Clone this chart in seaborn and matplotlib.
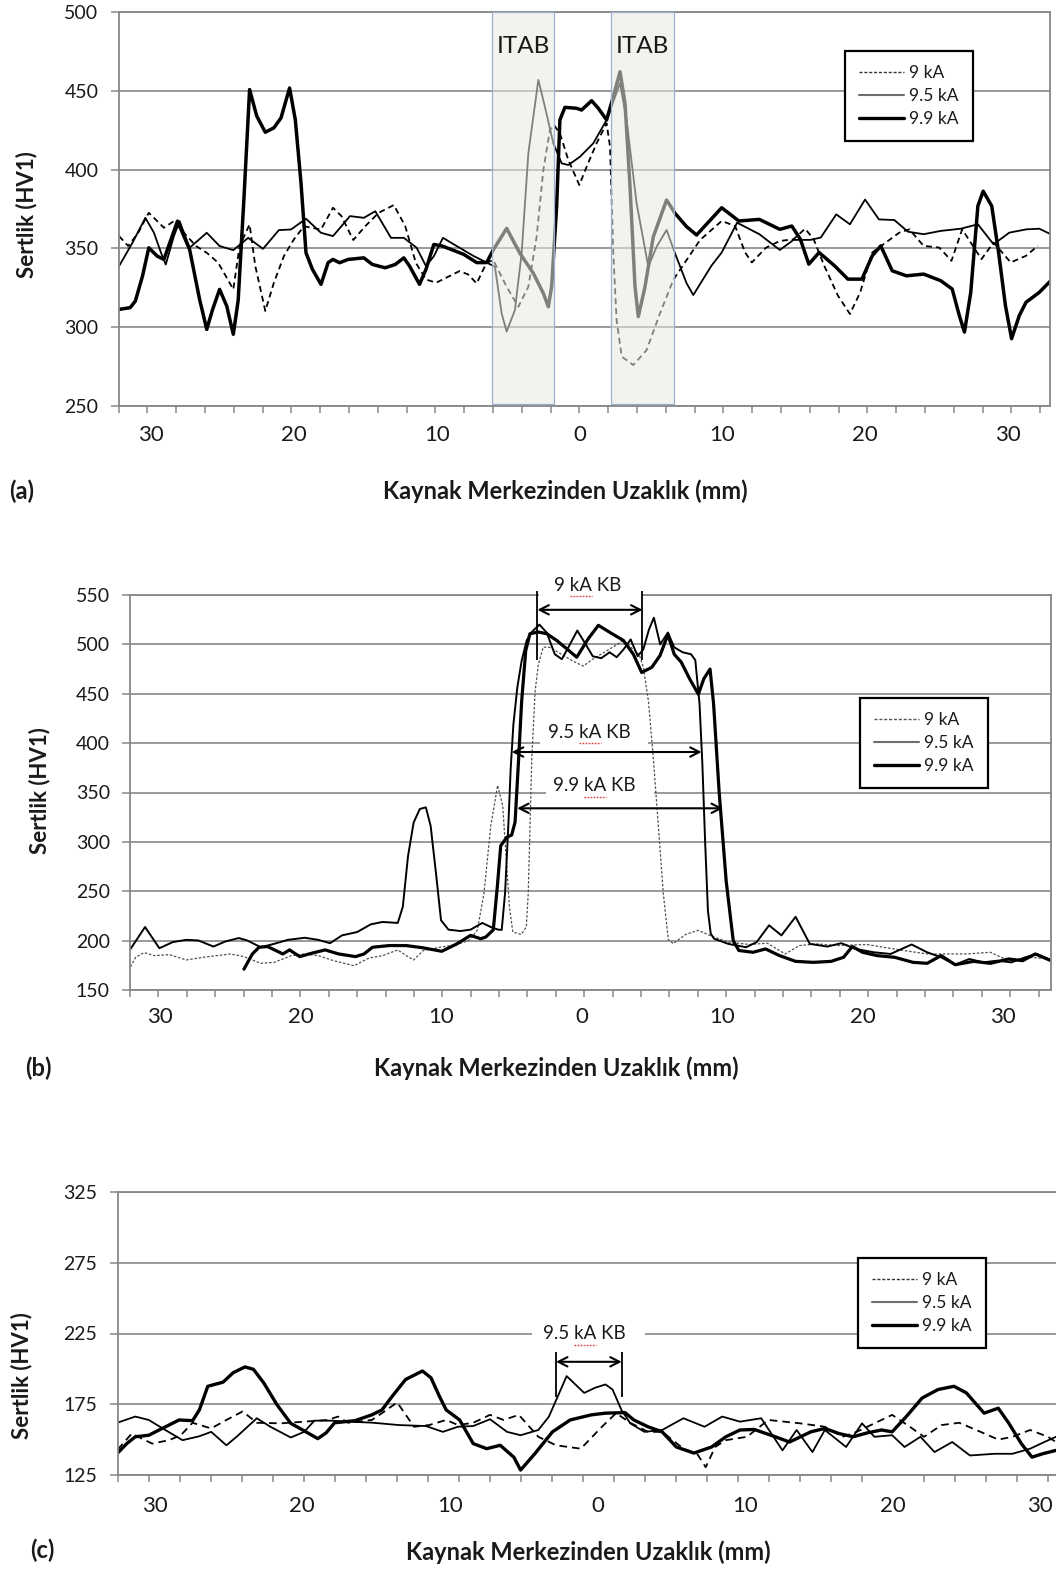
import numpy as np
import pandas as pd
import matplotlib
matplotlib.use("Agg")
import matplotlib.pyplot as plt
import seaborn as sns
from matplotlib.patches import Rectangle
from matplotlib.lines import Line2D
from matplotlib.font_manager import FontProperties
from matplotlib.transforms import IdentityTransform

# ---------------------------------------------------------------- data
series_labels = ["9 kA", "9.5 kA", "9.9 kA"]
x_tick_values = [-30, -20, -10, 0, 10, 20, 30]
x_tick_labels = ["30", "20", "10", "0", "10", "20", "30"]
a_yticks = [250, 300, 350, 400, 450, 500]
b_yticks = [150, 200, 250, 300, 350, 400, 450, 500, 550]
c_yticks = [125, 175, 225, 275, 325]
x_title = "Kaynak Merkezinden Uzaklık (mm)"
y_title = "Sertlik (HV1)"
panel_tags = ["(a)", "(b)", "(c)"]

# panel (a)  (distance mm, HV1)
a_9ka = [(-32.24, 357.8), (-31.6, 351.5), (-30.9, 359.9), (-30.16, 372.6), (-29.1, 363.1),
         (-28.4, 367.3), (-27.7, 359.9), (-26.85, 351.5), (-26.1, 347.2), (-25.3, 340.9),
         (-24.24, 324), (-23.8, 351.5), (-23.1, 365.2), (-22.7, 338.8), (-22.0, 310.3),
         (-21.4, 328.2), (-20.7, 345.1), (-20.0, 355.7), (-19.3, 364), (-18.1, 362),
         (-17.26, 375.8), (-16.67, 370.5), (-15.84, 355.3), (-15.0, 364.1), (-14.06, 372.6),
         (-13.0, 377.5), (-12.2, 364.1), (-11.46, 340.9), (-10.75, 330.3), (-10.04, 328.2),
         (-9.33, 331.4), (-8.4, 335.6), (-7.8, 333.5), (-7.2, 327.8), (-6.5, 341),
         (-6.04, 342.6), (-5.1, 325.7), (-4.28, 313), (-3.58, 325.7), (-3.0, 357.4),
         (-2.53, 399.7), (-2.07, 425.1), (-1.79, 428.3), (-1.37, 423), (-0.78, 406.1),
         (-0.01, 390.2), (0.5, 401.8), (1.2, 416.7), (1.9, 429.4), (2.14, 414.5),
         (2.37, 346.9), (2.6, 304.6), (2.96, 281.3), (3.77, 276), (4.7, 285.5),
         (5.64, 308.8), (6.57, 330), (7.5, 342.6), (8.44, 355.3), (9.96, 367.4),
         (10.9, 364.2), (11.6, 347.4), (12.07, 341.1), (13.07, 350.5), (14.03, 354.7),
         (14.99, 355.8), (15.8, 362.5), (16.4, 355.8), (17.14, 339), (18.1, 320),
         (18.94, 308.4), (19.66, 322.1), (20.5, 347.4), (21.45, 353.7), (22.4, 360),
         (23.1, 362.1), (24.1, 351.6), (25.2, 350.5), (26.05, 342.1), (26.8, 362.1),
         (28.15, 343.2), (29.0, 353.7), (30.2, 341.1), (31.27, 345.3), (32.1, 351.6)]
a_95ka = [(-32.24, 338.8), (-31.3, 353.6), (-30.4, 369.4), (-29.8, 360), (-29.3, 347.2),
          (-28.97, 339.8), (-28.4, 357.8), (-28.0, 367.3), (-27.3, 350.4), (-26.1, 359.9),
          (-25.2, 351.5), (-24.24, 348.9), (-23.2, 356.7), (-22.16, 349.7), (-21.05, 361.6),
          (-20.2, 362), (-19.15, 368.8), (-18.1, 359.9), (-17.26, 357.8), (-16.07, 370.5),
          (-15.1, 369.4), (-14.3, 373.6), (-13.2, 356.7), (-12.3, 356.7), (-11.4, 350.4),
          (-10.75, 338.8), (-10.2, 345), (-9.56, 356.7), (-8.6, 351.5), (-7.4, 345.1),
          (-6.5, 341), (-5.92, 338.4), (-5.45, 308.8), (-5.1, 297.2), (-4.52, 310.9),
          (-4.05, 346.9), (-3.58, 410.3), (-2.88, 456.9), (-2.42, 439.9), (-1.83, 416.7),
          (-1.25, 404), (-0.78, 402.9), (0.04, 408.2), (0.97, 416.7), (1.9, 431.5),
          (2.84, 454.8), (3.3, 431.5), (4.0, 378.6), (4.82, 338.4), (5.4, 351),
          (6.1, 361.7), (6.69, 346.9), (7.5, 327.9), (7.97, 320.4), (9.24, 339),
          (9.96, 347.4), (11.04, 366.3), (12.6, 359), (14.03, 349), (14.99, 355.4),
          (16.18, 355.4), (16.9, 356.9), (17.98, 371.6), (18.94, 365.3), (20.0, 381),
          (20.97, 368.4), (22.05, 368), (23.0, 360.6), (24.1, 359), (25.3, 361.1),
          (26.7, 362.5), (27.9, 365.3), (29.0, 352.6), (30.1, 360), (31.3, 362.1),
          (32.2, 362.5), (33.0, 359)]
a_99ka = [(-32.24, 311.3), (-31.46, 312.4), (-31.1, 316.6), (-30.6, 332.4), (-30.16, 350.4),
          (-29.57, 345.1), (-29.1, 343), (-28.15, 367.3), (-27.3, 349.3), (-26.6, 317.6),
          (-26.1, 298.6), (-25.7, 311), (-25.2, 324), (-24.7, 313.4), (-24.24, 295.5),
          (-23.9, 317), (-23.5, 381), (-23.1, 450.8), (-22.6, 434), (-22.0, 423.7),
          (-21.4, 426.5), (-20.9, 432.8), (-20.3, 451.8), (-19.9, 431.7), (-19.5, 391.6),
          (-19.15, 347.2), (-18.7, 336.7), (-18.1, 327.2), (-17.6, 341), (-17.26, 343),
          (-16.8, 340.9), (-16.2, 343), (-15.1, 344), (-14.5, 339.8), (-13.6, 337.7),
          (-12.9, 339.8), (-12.3, 344), (-11.9, 338.8), (-11.2, 327.2), (-10.75, 336.7),
          (-10.2, 352.5), (-9.6, 351.5), (-8.1, 346.2), (-7.2, 341), (-6.5, 341),
          (-6.04, 349), (-5.1, 362.7), (-4.17, 346.9), (-3.23, 334.2), (-2.53, 321.5),
          (-2.18, 313), (-1.95, 325.7), (-1.6, 376.5), (-1.37, 431.5), (-1.02, 439.5),
          (-0.2, 438.9), (0.15, 437.8), (0.85, 443.7), (1.32, 438.9), (1.9, 431.5),
          (2.37, 446.3), (2.84, 462.1), (3.19, 442), (3.54, 389.2), (3.89, 325.7),
          (4.12, 306.7), (4.59, 325.7), (5.17, 357.4), (6.1, 380.7), (6.69, 372.3),
          (7.5, 363.8), (8.2, 358.5), (9.96, 375.8), (11.16, 367.4), (12.6, 368.4),
          (14.03, 362.1), (14.87, 364.2), (15.47, 355.8), (16.06, 340), (16.78, 347.4),
          (17.86, 339), (18.8, 330.5), (19.78, 330.5), (20.5, 345.3), (21.1, 351.6),
          (21.9, 335.8), (22.9, 332.6), (24.1, 333.7), (25.3, 329.5), (26.1, 324.2),
          (26.6, 307.4), (26.96, 296.9), (27.4, 322.1), (27.9, 376.9), (28.27, 386.3),
          (28.87, 376.9), (29.35, 347.4), (29.83, 313.7), (30.26, 292.7), (30.8, 307.4),
          (31.27, 315.8), (32.2, 322.1), (33.0, 329.5)]

# panel (b)
b_9ka = [(-32.1, 173.5), (-31.74, 183.1), (-31.14, 187.9), (-30.41, 184.8), (-29.33, 185.8),
         (-28.13, 180.4), (-26.92, 183.1), (-25.0, 186.5), (-24.03, 183.8), (-22.83, 177),
         (-21.87, 178), (-20.66, 184.8), (-19.7, 186.5), (-18.74, 184.8), (-17.65, 179.7),
         (-16.2, 174.6), (-15.12, 182.4), (-14.16, 184.8), (-13.08, 190.6), (-12.48, 184.8),
         (-11.95, 180.4), (-11.27, 189.9), (-10.07, 193.3), (-8.86, 196.1), (-8.02, 200.2),
         (-7.42, 210.4), (-6.94, 248), (-6.46, 316.2), (-5.97, 357.2), (-5.61, 336.7),
         (-5.37, 285.5), (-5.13, 234.3), (-4.89, 208.7), (-4.29, 206.3), (-3.93, 213.8),
         (-3.79, 248.4), (-3.54, 384.7), (-3.3, 452.9), (-3.07, 480.1), (-2.72, 497.2),
         (-2.25, 497), (-1.55, 491), (-0.6, 483), (0.13, 478), (0.8, 485), (1.5, 491),
         (2.2, 497), (2.98, 504), (3.6, 496), (4.1, 490), (4.4, 477), (4.76, 443),
         (5.11, 385), (5.47, 316), (5.82, 248), (6.18, 201), (6.53, 197), (7.42, 206.3),
         (8.3, 210.4), (9.31, 204.3), (10.45, 198.5), (11.96, 196.1), (13.22, 197.4),
         (14.5, 186.5), (15.5, 195), (16.76, 196.7), (18.27, 195), (20.3, 196.1),
         (21.8, 192.6), (23.3, 189.2), (24.6, 186.5), (26.1, 186.5), (27.4, 186.5),
         (29.1, 188.2), (30.4, 179.7), (31.9, 183.1), (33.42, 181.4)]
b_95ka = [(-32.1, 191.6), (-31.07, 213.8), (-30.05, 192.3), (-29.1, 198.5), (-28.13, 200.8),
          (-27.28, 200.2), (-26.2, 194), (-25.36, 199.1), (-24.4, 202.6), (-23.8, 200.2),
          (-22.83, 193.3), (-21.87, 196.8), (-20.9, 200.8), (-19.7, 202.9), (-18.74, 200.8),
          (-17.9, 197.4), (-17.05, 205.3), (-15.97, 208.7), (-15.0, 216.5), (-14.16, 218.9),
          (-13.08, 217.9), (-12.72, 234.3), (-12.35, 285.5), (-11.95, 319.6), (-11.51, 333.3),
          (-11.08, 335), (-10.74, 316.2), (-10.36, 268.4), (-10.0, 220.6), (-9.47, 211.1),
          (-8.62, 209.7), (-7.9, 211.1), (-7.06, 217.9), (-6.46, 213.8), (-5.93, 211.1),
          (-5.68, 210.9), (-5.44, 248.4), (-5.21, 316.5), (-5.04, 374.5), (-4.85, 418.8),
          (-4.57, 456.3), (-4.26, 483.5), (-3.9, 504), (-3.54, 512.5), (-3.0, 520),
          (-2.48, 512), (-1.9, 490), (-1.4, 485), (-0.9, 498), (-0.3, 514), (0.3, 500),
          (0.8, 488), (1.4, 486), (2.0, 492), (2.5, 487), (3.0, 495), (3.5, 505), (4.0, 488),
          (4.4, 495), (4.8, 515), (5.15, 527), (5.6, 500), (6.15, 512), (6.6, 497),
          (7.2, 492), (7.8, 490), (8.1, 484), (8.4, 440), (8.6, 380), (8.8, 300), (9.0, 230),
          (9.2, 207), (9.44, 201.9), (10.45, 196.7), (11.71, 193.3), (12.47, 198.5),
          (13.35, 215.5), (14.23, 205.3), (15.24, 224.1), (16.25, 196.7), (17.5, 194),
          (18.5, 197.4), (19.5, 191.6), (20.8, 188.2), (22.0, 186.5), (23.5, 196.1),
          (24.6, 188.2), (25.6, 183.1), (26.6, 175.6), (27.6, 181.4), (28.6, 178),
          (29.6, 179.7), (30.6, 178), (31.6, 183.1), (32.4, 186.5), (33.42, 180.3)]
b_99ka = [(-24.03, 171.1), (-23.43, 186.5), (-22.95, 193.3), (-22.35, 194), (-21.75, 189.9),
          (-21.26, 186.5), (-20.78, 190.6), (-20.06, 183.8), (-19.22, 187.2), (-18.25, 190.6),
          (-17.29, 186.5), (-16.09, 183.8), (-15.48, 186.5), (-14.88, 193.3), (-13.68, 195),
          (-12.48, 195), (-11.27, 192.7), (-9.95, 189.2), (-8.86, 196.8), (-7.9, 205.3),
          (-7.18, 201.9), (-6.82, 203.6), (-6.28, 210.9), (-5.99, 255.2), (-5.75, 296.1),
          (-5.32, 304.6), (-4.97, 307), (-4.73, 320), (-4.5, 377.9), (-4.26, 442.6),
          (-3.97, 493.8), (-3.67, 510.8), (-3.07, 512.5), (-2.48, 510.8), (-1.77, 504),
          (-1.05, 495.5), (-0.34, 487), (0.48, 505.7), (1.2, 519.3), (2.15, 511), (2.98, 504),
          (3.69, 490), (4.28, 471.6), (5.0, 476.7), (5.59, 488.7), (6.15, 510), (6.6, 490),
          (7.1, 482), (7.7, 465), (8.32, 449.5), (8.7, 465), (9.15, 475), (9.4, 440),
          (9.8, 350), (10.3, 260), (10.8, 200), (11.2, 190), (12.21, 188.2), (13.1, 191.6),
          (14.1, 184.8), (15.24, 179), (16.5, 178), (17.77, 179), (18.65, 183.1),
          (19.28, 194), (20.0, 188.2), (21.05, 184.8), (22.3, 183.1), (23.6, 178),
          (24.6, 177), (25.6, 184.8), (26.6, 175.6), (27.9, 179), (29.1, 177), (30.4, 181.4),
          (31.4, 179.7), (32.3, 186.5), (33.42, 179.7)]

# panel (c)
c_9ka = [(-32.5, 142.9), (-31.54, 154.3), (-30.85, 150.7), (-30.16, 147.2), (-29.02, 149.6),
         (-28.22, 153.1), (-27.42, 161.9), (-26.16, 157.9), (-25.13, 163.9), (-24.03, 169.9),
         (-23.07, 161.9), (-21.47, 161.5), (-19.86, 162.7), (-18.26, 163.9), (-17.57, 166.3),
         (-16.88, 161.9), (-15.28, 163.9), (-14.59, 168.7), (-13.56, 176.3), (-12.42, 159.1),
         (-11.39, 160.3), (-10.24, 163.9), (-9.44, 160.3), (-8.41, 161.9), (-7.27, 167.5),
         (-6.35, 163.9), (-5.32, 167.5), (-4.0, 152), (-2.8, 146), (-1.12, 143.6),
         (0.31, 159.1), (1.27, 168.7), (2.23, 161.9), (3.43, 155.5), (4.39, 155.5),
         (5.83, 143.6), (6.79, 139.5), (7.34, 130.5), (7.98, 144.8), (8.7, 149.6),
         (10.14, 152), (11.58, 163.9), (13.74, 161.5), (15.41, 159.1), (16.61, 152),
         (17.57, 155.5), (18.77, 161.5), (19.97, 167.5), (21.17, 159.1), (22.13, 152),
         (23.32, 160.3), (24.52, 161.9), (25.96, 155.5), (27.16, 150), (28.12, 152),
         (29.32, 156.8), (30.52, 152), (31.07, 148.3)]
c_95ka = [(-32.5, 162), (-31.3, 166.3), (-30.39, 163.9), (-29.25, 156.7), (-28.1, 149.6),
          (-26.96, 152.4), (-26.16, 155.5), (-25.13, 146), (-24.44, 152), (-23.07, 165.1),
          (-22.15, 159.1), (-20.77, 151.5), (-19.86, 155.5), (-19.17, 163.4), (-18.03, 163.4),
          (-16.88, 162.7), (-15.28, 162), (-13.45, 160.3), (-11.61, 159.6), (-10.47, 155.5),
          (-9.44, 159.1), (-8.41, 159.6), (-7.27, 164.4), (-6.12, 155.5), (-5.2, 153.1),
          (-4.0, 156.8), (-3.28, 166.3), (-2.68, 180.6), (-2.08, 194.9), (-1.6, 190.1),
          (-0.89, 183), (-0.17, 186.6), (0.55, 189), (1.03, 185.4), (1.63, 171),
          (2.23, 161.5), (3.19, 155.5), (4.39, 156.8), (5.83, 165.1), (7.26, 159.1),
          (8.46, 166.3), (9.66, 162.7), (11.1, 165.1), (12.54, 142.4), (13.5, 156.8),
          (14.57, 141.2), (15.41, 156.8), (16.85, 144.8), (17.93, 161.5), (18.77, 152),
          (19.97, 153.1), (20.81, 144.8), (21.89, 152), (22.84, 141.2), (24.04, 148.3),
          (25.24, 138.8), (26.92, 140), (28.12, 140), (29.32, 143.6), (30.28, 148.3),
          (31.07, 152)]
c_99ka = [(-32.5, 140.5), (-31.88, 147.2), (-31.3, 152), (-30.39, 153.1), (-29.48, 157.9),
          (-28.33, 163.9), (-27.42, 163.4), (-26.96, 171), (-26.39, 187.7), (-25.36, 190.6),
          (-24.67, 197.3), (-23.87, 201.4), (-23.3, 199.7), (-22.6, 190.1), (-21.7, 174.6),
          (-20.77, 161.5), (-19.86, 156.2), (-18.94, 150.7), (-18.37, 154.8), (-17.8, 161.9),
          (-16.42, 163.4), (-15.28, 167.5), (-14.59, 171), (-13.9, 180.6), (-12.99, 192.5),
          (-11.85, 198.5), (-11.27, 193.7), (-10.7, 180.6), (-10.24, 171), (-9.33, 163.9),
          (-8.41, 147.2), (-7.5, 143.6), (-6.58, 146), (-5.66, 137.6), (-5.2, 128.5),
          (-4.24, 140), (-3.04, 155.5), (-1.84, 163.9), (-0.41, 167.5), (0.55, 168.7),
          (1.87, 169.1), (2.47, 163.9), (3.43, 159.1), (4.39, 155.5), (5.35, 144.8),
          (6.54, 140.5), (7.74, 144.8), (8.7, 152), (9.66, 156.8), (10.62, 157.2),
          (12.06, 152), (13.02, 148.3), (14.46, 155.5), (15.41, 157.9), (16.37, 154.3),
          (17.33, 152), (18.29, 154.8), (19.25, 156.8), (19.97, 155.5), (20.93, 166.3),
          (22.0, 179.4), (23.08, 185.4), (24.16, 187.7), (25.0, 183), (26.2, 168.7),
          (27.16, 172.2), (27.88, 161.5), (28.72, 147.2), (29.44, 137.6), (30.16, 140),
          (31.07, 142.4)]

# annotations
itab_label = "ITAB"
itab_spans = [(-6.14, -1.75), (2.2, 6.62)]
itab_y = (251, 500)
itab_text_y = 478
b_kb_labels = ["9 kA KB", "9.5 kA KB", "9.9 kA KB"]
b_kb_spans = [(-3.14, 4.34), (-4.96, 8.55), (-4.58, 10.07)]
b_kb_arrow_y = [535, 391, 334]
b_kb_text_xy = [(0.46, 560), (0.55, 411), (0.9, 357)]
b_kb_mask = [(-3.05, 4.25, 546, 573), (-2.94, 4.76, 399, 423), (-2.56, 5.14, 345, 369)]
b_kb9_bar_y = (484, 554)
c_kb_label = "9.5 kA KB"
c_kb_span = (-2.8, 1.65)
c_kb_arrow_y = 205
c_kb_bar_y = (180, 212)
c_kb_text_xy = (-0.9, 225)
c_kb_mask = (-4.4, 3.2, 219, 231)
spell_word = "kA"

# ---------------------------------------------------------------- style
sns.set_theme(style="white")
plt.rcParams['font.family'] = ['Lato', 'DejaVu Sans']
plt.rcParams['text.color'] = '#1a1a1a'

GRAY = '#878787'
W, H = 1056, 1569
KB_SIZE = 13.5
fig = plt.figure(figsize=(W / 100, H / 100), dpi=100)
fig.patch.set_facecolor('white')


def box(l, t, r, b):
    return [l / W, 1 - b / H, (r - l) / W, (b - t) / H]


ax_a = fig.add_axes(box(118.5, 12, 1050, 406))
ax_b = fig.add_axes(box(130, 595, 1051, 990))
ax_c = fig.add_axes(box(117.6, 1192, 1056, 1475))


def draw(ax, pts, color, lw, ls):
    df = pd.DataFrame(pts, columns=["mm", "hv"])
    sns.lineplot(data=df, x="mm", y="hv", ax=ax, color=color, linewidth=lw,
                 linestyle=ls, estimator=None, errorbar=None, sort=False,
                 legend=False, solid_joinstyle='round', dash_joinstyle='round',
                 zorder=2)


def style(ax, xlim, ylim, yticks, mstart, mstep, xpad, ylab_xy):
    ax.set_xlim(*xlim)
    ax.set_ylim(*ylim)
    ax.set_yticks(yticks)
    ax.set_yticklabels([str(v) for v in yticks])
    ax.set_xticks(x_tick_values)
    ax.set_xticklabels(x_tick_labels)
    ax.set_xticks(np.arange(mstart, xlim[1] + 1e-6, mstep), minor=True)
    ax.tick_params(axis='x', which='major', bottom=True, length=0, pad=xpad,
                   labelsize=16, labelcolor='#1a1a1a')
    ax.tick_params(axis='x', which='minor', bottom=True, length=5, width=1.1,
                   color=GRAY, direction='out')
    ax.tick_params(axis='y', which='major', left=True, length=5.5, width=1.1,
                   color=GRAY, direction='out', pad=9, labelsize=14,
                   labelcolor='#1a1a1a')
    ax.grid(axis='y', color=GRAY, linewidth=1.2)
    ax.grid(axis='x', visible=False)
    ax.set_axisbelow(True)
    for s in ax.spines.values():
        s.set_color(GRAY)
        s.set_linewidth(1.3)
    ax.set_xlabel('')
    ax.set_ylabel(y_title, fontsize=16, fontweight='bold', color='#1a1a1a')
    ax.yaxis.set_label_coords(*ylab_xy)
    ax.set_facecolor('white')


def legend(ax, anchor, dotted_color):
    handles = [Line2D([], [], color=dotted_color, lw=1.0, linestyle=(0, (2.2, 1.3))),
               Line2D([], [], color='#6e6e6e', lw=1.5),
               Line2D([], [], color='black', lw=2.4)]
    lg = ax.legend(handles, series_labels, loc='upper left', bbox_to_anchor=anchor,
                   borderaxespad=0, frameon=True, fancybox=False, edgecolor='black',
                   framealpha=1, fontsize=12.5, handlelength=2.6, handletextpad=0.3,
                   labelspacing=0.4, borderpad=0.8)
    lg.get_frame().set_linewidth(1.6)
    lg.set_zorder(6)


def double_arrow(ax, x0, x1, y):
    ax.annotate('', xy=(x1, y), xytext=(x0, y),
                arrowprops=dict(arrowstyle='<->,head_length=0.55,head_width=0.28',
                                lw=1.5, color='black', shrinkA=0, shrinkB=0),
                zorder=4, annotation_clip=False)


kb_texts = []

# ---------------------------------------------------------------- panel (a)
draw(ax_a, a_9ka, 'black', 1.3, (0, (3.3, 2.2)))
draw(ax_a, a_95ka, 'black', 1.3, '-')
draw(ax_a, a_99ka, 'black', 2.5, '-')
style(ax_a, (-32.28, 32.95), (250, 500), a_yticks, -32.28, 2.017, 14, (-0.0874, 0.487))
for x0, x1 in itab_spans:
    ax_a.add_patch(Rectangle((x0, itab_y[0]), x1 - x0, itab_y[1] - itab_y[0],
                             facecolor='#EBE9E2', alpha=0.55, edgecolor='none', zorder=3))
    ax_a.add_patch(Rectangle((x0, itab_y[0]), x1 - x0, itab_y[1] - itab_y[0],
                             fill=False, edgecolor='#9AB0CC', lw=0.9, zorder=3.1))
    ax_a.text((x0 + x1) / 2, itab_text_y, itab_label, ha='center', va='center',
              fontsize=17.5, color='#1a1a1a', zorder=4)
legend(ax_a, (0.780, 0.901), '#333333')

# ---------------------------------------------------------------- panel (b)
draw(ax_b, b_9ka, '#505050', 0.9, (0, (2.0, 1.4)))
draw(ax_b, b_95ka, 'black', 1.4, '-')
draw(ax_b, b_99ka, 'black', 2.3, '-')
style(ax_b, (-32.14, 33.42), (150, 550), b_yticks, -32.14, 2.021, 12, (-0.0861, 0.504))
for (m0, m1, my0, my1) in b_kb_mask:
    ax_b.add_patch(Rectangle((m0, my0), m1 - m0, my1 - my0, facecolor='white',
                             edgecolor='none', zorder=2.6 if my1 > 550 else 1,
                             clip_on=False))
for lab, (x0, x1), ay, (tx, ty) in zip(b_kb_labels, b_kb_spans, b_kb_arrow_y, b_kb_text_xy):
    double_arrow(ax_b, x0, x1, ay)
    t = ax_b.text(tx, ty, lab, ha='center', va='center', fontsize=KB_SIZE, zorder=5,
                  clip_on=False)
    kb_texts.append(t)
ax_b.vlines(list(b_kb_spans[0]), b_kb9_bar_y[0], b_kb9_bar_y[1], colors='black',
            lw=1.3, zorder=4, clip_on=False)
legend(ax_b, (0.7926, 0.739), '#555555')

# ---------------------------------------------------------------- panel (c)
draw(ax_c, c_9ka, 'black', 1.3, (0, (4.2, 2.8)))
draw(ax_c, c_95ka, 'black', 1.3, '-')
draw(ax_c, c_99ka, 'black', 2.4, '-')
style(ax_c, (-32.5, 31.07), (125, 325), c_yticks, -32.5, 2.1, 15, (-0.0912, 0.35))
ax_c.spines['right'].set_visible(False)
ax_c.add_patch(Rectangle((c_kb_mask[0], c_kb_mask[2]), c_kb_mask[1] - c_kb_mask[0],
                         c_kb_mask[3] - c_kb_mask[2], facecolor='white',
                         edgecolor='none', zorder=1))
double_arrow(ax_c, c_kb_span[0], c_kb_span[1], c_kb_arrow_y)
ax_c.vlines(list(c_kb_span), c_kb_bar_y[0], c_kb_bar_y[1], colors='black', lw=1.3, zorder=4)
t = ax_c.text(c_kb_text_xy[0], c_kb_text_xy[1], c_kb_label, ha='center', va='center',
              fontsize=KB_SIZE, zorder=5)
kb_texts.append(t)
legend(ax_c, (0.789, 0.767), '#333333')

# ---------------------------------------------------------------- figure texts
for tag, (px, py) in zip(panel_tags, [(22, 491), (38, 1068), (42, 1550)]):
    fig.text(px / W, 1 - py / H, tag, ha='center', va='center', fontsize=17,
             fontweight='bold', color='#1a1a1a')
for (px, py) in [(565, 491), (556, 1068), (588, 1552)]:
    fig.text(px / W, 1 - py / H, x_title, ha='center', va='center', fontsize=17,
             fontweight='bold', color='#1a1a1a')

# red spell-check underline under "kA" in the KB labels (as in the source document)
fig.canvas.draw()
renderer = fig.canvas.get_renderer()
for t in kb_texts:
    s = t.get_text()
    fp = t.get_fontproperties()
    bb = t.get_window_extent(renderer)
    i0 = s.index(spell_word)
    w_pre = renderer.get_text_width_height_descent(s[:i0], fp, ismath=False)[0]
    w_word = renderer.get_text_width_height_descent(s[:i0 + len(spell_word)], fp, ismath=False)[0]
    _, h_full, d_full = renderer.get_text_width_height_descent(s, fp, ismath=False)
    base = bb.y0 + d_full
    fig.add_artist(Line2D([bb.x0 + w_pre, bb.x0 + w_word], [base - 2.5, base - 2.5],
                          transform=IdentityTransform(), color='#e23b3b', lw=1.0,
                          linestyle=(0, (1.2, 1.0)), zorder=7))

fig.savefig('out.png', dpi=100, facecolor='white')
